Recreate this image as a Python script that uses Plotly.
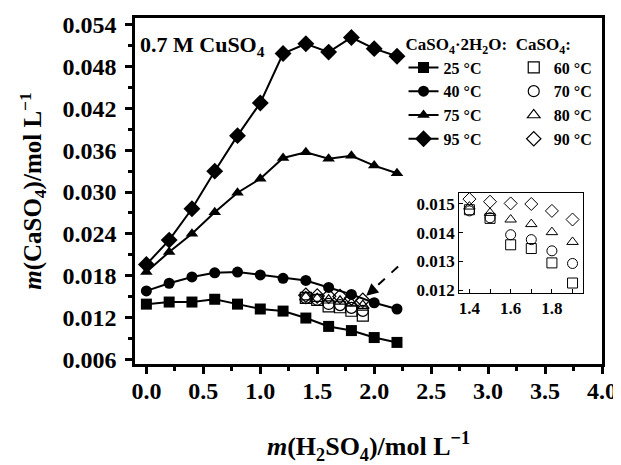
import plotly.graph_objects as go

# ---- data ----
x_main = [0.0, 0.2, 0.4, 0.6, 0.8, 1.0, 1.2, 1.4, 1.6, 1.8, 2.0, 2.2]
y_25 = [0.0139, 0.0142, 0.0142, 0.0146, 0.0139, 0.0132, 0.0129, 0.0119, 0.0107, 0.0101, 0.0091, 0.0084]
y_40 = [0.0158, 0.0169, 0.0178, 0.0184, 0.0185, 0.0181, 0.0176, 0.0173, 0.0163, 0.0153, 0.0141, 0.0132]
y_75 = [0.0185, 0.0214, 0.0240, 0.0271, 0.0299, 0.0319, 0.0349, 0.0357, 0.0348, 0.0352, 0.0338, 0.0327]
y_95 = [0.0196, 0.0231, 0.0276, 0.0330, 0.0381, 0.0428, 0.0499, 0.0513, 0.0501, 0.0522, 0.0506, 0.0495]

x_anh = [1.4, 1.5, 1.6, 1.7, 1.8, 1.9]
y_60 = [0.01480, 0.01450, 0.01358, 0.01345, 0.01295, 0.01225]
y_70 = [0.01476, 0.01452, 0.01393, 0.01376, 0.01337, 0.01293]
y_80 = [0.01491, 0.01469, 0.01446, 0.01430, 0.01402, 0.01368]
y_90 = [0.01517, 0.01508, 0.01502, 0.01500, 0.01476, 0.01446]

gyp_names = ["25 °C", "40 °C", "75 °C", "95 °C"]
gyp_symbols = ["square", "circle", "triangle-up", "diamond"]
anh_names = ["60 °C", "70 °C", "80 °C", "90 °C"]
anh_symbols = ["square-open", "circle-open", "triangle-up-open", "diamond-open"]

x_ticks_inset = [1.4, 1.6, 1.8]
y_ticks_inset = [0.012, 0.013, 0.014, 0.015]

FONT = "Liberation Serif"
fig = go.Figure()

for name, sym, ys in zip(gyp_names, gyp_symbols, [y_25, y_40, y_75, y_95]):
    fig.add_trace(go.Scatter(
        x=x_main, y=ys, mode="lines+markers", name=name,
        line=dict(color="black", width=2),
        marker=dict(symbol=sym, size=11 if sym != "diamond" else 13, color="black"),
        legend="legend"))

for name, sym, ys in zip(anh_names, anh_symbols, [y_60, y_70, y_80, y_90]):
    fig.add_trace(go.Scatter(
        x=x_anh, y=ys, mode="markers", name=name,
        marker=dict(symbol=sym, size=11, color="black", line=dict(width=1.2)),
        legend="legend2"))

for name, sym, ys in zip(anh_names, anh_symbols, [y_60, y_70, y_80, y_90]):
    fig.add_trace(go.Scatter(
        x=x_anh, y=ys, mode="markers", name=name, showlegend=False,
        marker=dict(symbol=sym, size=10, color="black", line=dict(width=1)),
        xaxis="x2", yaxis="y2"))

fig.update_layout(
    width=613, height=457,
    margin=dict(l=127, r=19, t=10, b=101, autoexpand=False),
    paper_bgcolor="white", plot_bgcolor="white",
    font=dict(family=FONT, color="black"),
    xaxis=dict(
        range=[-0.1, 4.0], tick0=0, dtick=0.5, tickformat=".1f",
        ticks="outside", ticklen=7, tickwidth=2.5, tickcolor="black",
        minor=dict(ticks="outside", dtick=0.25, ticklen=4, tickwidth=2.5, tickcolor="black"),
        showline=True, linewidth=2.5, linecolor="black", mirror=True,
        showgrid=False, zeroline=False, automargin=False, ticklabelstandoff=-4,
        tickfont=dict(family=FONT, size=24, color="black", weight="bold"),
        title=dict(text="<i>m</i>(H<sub>2</sub>SO<sub>4</sub>)/mol L<sup>−1</sup>",
                   font=dict(family=FONT, size=26, color="black", weight="bold"), standoff=35),
    ),
    yaxis=dict(
        range=[0.0053, 0.0550], tick0=0.006, dtick=0.006, tickformat=".3f",
        ticks="outside", ticklen=7, tickwidth=2.5, tickcolor="black",
        minor=dict(ticks="outside", dtick=0.003, ticklen=4, tickwidth=2.5, tickcolor="black"),
        showline=True, linewidth=2.5, linecolor="black", mirror=True,
        showgrid=False, zeroline=False, automargin=False, ticklabelstandoff=4,
        tickfont=dict(family=FONT, size=24, color="black", weight="bold"),
        title=dict(text="<i>m</i>(CaSO<sub>4</sub>)/mol L<sup>−1</sup>",
                   font=dict(family=FONT, size=25, color="black", weight="bold"), standoff=14),
    ),
    xaxis2=dict(
        domain=[0.694, 0.959], anchor="y2", range=[1.35, 1.95],
        tickvals=x_ticks_inset, ticktext=[f"{v:.1f}" for v in x_ticks_inset],
        ticks="inside", ticklen=4, tickwidth=1, tickcolor="black",
        minor=dict(ticks="inside", dtick=0.1, tick0=1.4, ticklen=4, tickwidth=1, tickcolor="black"),
        showline=True, linewidth=1, linecolor="black", mirror=True,
        showgrid=False, zeroline=False, automargin=False,
        tickfont=dict(family=FONT, size=17, color="black", weight="bold"),
    ),
    yaxis2=dict(
        domain=[0.205, 0.494], anchor="x2", range=[0.0119, 0.01538],
        tickvals=y_ticks_inset, ticktext=[f"{v:.3f}" for v in y_ticks_inset],
        ticks="inside", ticklen=4, tickwidth=1, tickcolor="black",
        showline=True, linewidth=1, linecolor="black", mirror=True,
        showgrid=False, zeroline=False, automargin=False,
        tickfont=dict(family=FONT, size=17, color="black", weight="bold"),
    ),
    legend=dict(
        x=0.575, y=0.97, xanchor="left", yanchor="top",
        bgcolor="rgba(0,0,0,0)", borderwidth=0,
        font=dict(family=FONT, size=16, color="black", weight="bold"),
        title=dict(text="CaSO<sub>4</sub>·2H<sub>2</sub>O:",
                   font=dict(family=FONT, size=17, color="black", weight="bold")),
        tracegroupgap=0, itemwidth=30,
    ),
    legend2=dict(
        x=0.811, y=0.97, xanchor="left", yanchor="top",
        bgcolor="rgba(0,0,0,0)", borderwidth=0,
        font=dict(family=FONT, size=16, color="black", weight="bold"),
        title=dict(text="CaSO<sub>4</sub>:",
                   font=dict(family=FONT, size=17, color="black", weight="bold")),
        tracegroupgap=0, itemwidth=30,
    ),
    showlegend=True,
)

fig.add_annotation(
    xref="paper", yref="paper", x=0.006, y=0.965, xanchor="left", yanchor="top",
    text="0.7 M CuSO<sub>4</sub>", showarrow=False,
    font=dict(family=FONT, size=22, color="black", weight="bold"))

# dashed pointer toward the anhydrite points
fig.add_shape(type="line", xref="x", yref="y", x0=2.21, y0=0.0193, x1=1.99, y1=0.0160,
              line=dict(color="black", width=2, dash="dash"))
fig.add_annotation(xref="x", yref="y", axref="x", ayref="y",
                   x=1.93, y=0.0151, ax=2.0, ay=0.0161, text="", showarrow=True,
                   arrowhead=2, arrowsize=1.2, arrowwidth=2, arrowcolor="black")

fig.write_html("out.html")
